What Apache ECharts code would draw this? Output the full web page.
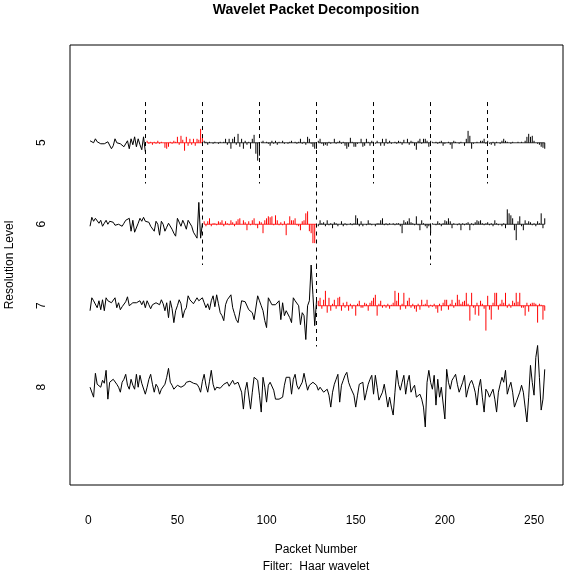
<!DOCTYPE html>
<html>
<head>
<meta charset="utf-8">
<script src="https://cdn.jsdelivr.net/npm/echarts@6/dist/echarts.min.js"></script>
<style>
  html, body { margin: 0; padding: 0; background: #fff; }
  #chart { width: 571px; height: 576px; }
</style>
</head>
<body>
<div id="chart"></div>
<script>
// resolution levels (top to bottom) and axis ticks
const levels = [5, 6, 7, 8];
const xTicks = [0, 50, 100, 150, 200, 250];

// coefficients per level (upward = positive)
const lvl5 = [
  2, 3, 0, 4, 1, 0, -1, 1, -1, -1, 1, 0, -6, -3, 4, 0, -2, -1, 0, -4,
  -2, 2, -6, 4, -2, 6, -4, 4, -2, -7, 6, -9,
  2, -1, 1, -2, 1, -1, 2, -1, 1, 0, -5, -6, -4, 1, -1, 2, 1, 6, -2, 7,
  3, -8, 6, -3, 4, -2, 4, -3, 4, 3, 14, 5,
  2, 1, -2, 1, 0, -1, 1, 0, -1, 1, 0, 1, 4, -2, 4, -6, 4, 6, -2, 9,
  -4, 4, -6, 2, -2, 1, -6, 4, 8, -11, -18, -13, 1, 2, 0, 1, -1, -3, 2, -1,
  2, -2, 1, 0, 2, -1, 0, -1, 1, 2, 0, 1, -1, 1, 4, -1, 1, -2, 6, 4,
  -1, -4, -6, -6, 2, 4, -1, -3, -2, -3, 1, -1, 0, 4, -1, 1, 2, -1, 1, -3,
  -6, -4, 5, 1, -4, -4, -1, 0, 4, -4, -3, 4, 1, -3, 2, 1, -1, 2, 0, -3,
  4, -3, 4, -1, 2, -1, 0, 1, -1, 2, 1, -2, 3, 0, 4, -2, 2, 1, -3, -7,
  2, 4, -1, 4, 4, 2, -4, 2, 1, 0, 1, -1, 1, 2, -3, -1, 0, 1, -2, -6,
  2, 1, 0, -1, 1, 0, -3, 4, 12, 7, -6, -1, 0, 1, 0, 2, 2, 4, -1, 2,
  -1, -2, 1, -3, 1, 0, -1, 2, 4, 2, 1, 0, -1, 1, 0, 0, 1, 0, 1, 0,
  2, 6, 9, 6, 7, 2, 0, -1, -2, -4, -5, -6
];
const lvl6 = [
  -2, 7, 3, 6, 4, 1, 4, -2, 1, 4, 0, 3, 1, 2, -1, 1, 0, 1, -2, 1,
  4, 5, 6, -7, 4, -8, -9, 1, 6, 3, 7, 3, 1, 2, -2, 0, -7, 3, 0, -11,
  3, 0, -7, -3, 1, 3, -5, -9, -12, 6, 8, -2, 4, 0, -5, 4, 3, -2, -8, -11,
  -14, 22, -14, 1,
  3, -2, 3, 6, -2, 1, 1, -1, 3, 2, 4, -2, 3, 1, -1, 4, 2, -2, 3, 5,
  6, 0, 4, 2, -6, 3, -1, 4, 6, -1, -4, 3, 2, -9, 4, 6, 8, 7, 8, -1,
  9, 4, -1, 2, -1, 3, -11, 1, 8, 4, 4, 6, -1, -2, -6, 3, 4, 11, 13, -7,
  -9, -19, -19, -3,
  -2, 4, 1, 2, -2, 4, -1, 1, -4, 2, 1, -2, 0, 3, -2, 1, -1, 0, 1, -1,
  1, 9, 6, -2, 3, -2, 0, -1, 4, 1, -1, 0, -2, 1, 1, 4, 6, -1, 1, -1,
  1, 0, 1, -1, 1, 1, -2, -9, 4, 2, 3, 6, 2, 1, -1, 8, -1, -6, 4, 1,
  -2, -4, -2, -9, 1, 0, -1, 3, 1, -2, 1, 4, 3, 6, 3, -4, 1, 0, -1, 1,
  -6, 1, -1, 1, 2, -6, 1, -1, 2, 4, 3, 4, 1, -1, 1, 2, -1, 1, -2, 4,
  1, -1, 0, -2, 1, -4, 15, 11, 9, 6, -6, -16, 3, 8, -2, -6, 4, 1, 3, 2,
  -1, 1, -2, 3, 1, 11, -4, 6
];
const lvl7 = [
  -5, 8, 5, 3, -2, 5, -4, 6, -5, 8, 5, 6, 3, 2, 8, -2, 3, -4, -1, -2,
  4, 9, 0, 2, 3, 1, 3, 5, 5, 1, 5, -2, 5, 1, -3, 1, -1, 3, 2, 1,
  6, 2, -5, 3, -12, 5, -3, -17, -5, 0, 6, 2, -12, -5, -2, 10, 6, 6, 2, 0,
  8, 5, 3, 8, 3, -2, 2, -4, 5, 10, -1, 11, 2, -7, -10, -15, 1, 6, 8, 11,
  -2, -8, -14, -17, -15, 5, 5, 4, 3, -4, -5, -7, -14, -12, 10, 5, 0, -5, -15, -22,
  8, 6, 1, 2, 1, 3, 5, -14, 3, -10, -5, -7, -12, -17, 8, 5, 3, 0, -19, -7,
  -10, -34, 0, 5, 41, 11, -20, 5,
  5, 8, -3, 6, 15, -7, 8, -5, 2, 6, -3, 8, 9, -5, 3, -2, 4, -5, 2, -3,
  1, -10, 2, 5, -2, -2, 3, 2, -5, 3, 5, 8, 11, -10, 2, 5, -2, 1, -2, 2,
  -3, 1, 3, 15, 5, 13, -4, 2, 13, -3, 5, 8, -2, 2, -3, -6, 2, -4, 6, 1,
  2, 6, -2, 1, -1, 2, -3, -7, 2, -5, 3, 6, 6, -4, 2, 6, -2, 3, 11, 6,
  2, 4, 5, 13, 2, -15, 13, -2, -9, 3, -10, 5, 2, -3, -25, 10, -4, -14, 3, 13,
  13, -4, 2, 6, 3, 13, -2, 2, -2, 5, 3, 13, 4, 13, -2, -2, -10, 3, -6, 2,
  3, 3, 2, -17, 2, 1, -14, -5
];
const lvl8 = [
  0, 0, -10, 14, 3, 2, 0, 7, 4, 17, -12, 5, 6, 8, 10, 3, 0, -5, 5, 8,
  13, 2, -2, 8, 2, -2, 13, 0, 12, 4, 2, -7, 0, 8, 13, 3, -5, 3, 0, -7,
  -2, 0, 3, 10, 19, 5, 2, -2, -1, 2, 3, 0, -2, 2, 5, 4, 6, 8, 4, 2,
  3, 0, -5, 6, 13, 2, -5, 6, 17, 3, -3, 0, 2, -1, 0, 3, 2, 5, 1, 0,
  7, 3, 2, 5, 7, -5, -22, -3, 5, 3, -22, -5, 10, 8, 7, -8, -25, 10, 0, -15,
  2, 5, 7, -3, -12, -11, -12, -10, -10, 2, 10, 9, 10, -7, 8, 13, 2, -2, 0, 5,
  14, 5, -3, 2, 3, 5, 7, 2, -3, 0, 0, -5, -3, -2, -8, -20, -5, 3, 8, 13,
  -15, 2, 7, 12, 15, 5, 0, -2, -8, -20, -8, 3, 4, 5, -13, -5, 3, 8, 12, -7,
  12, 0, -13, -12, -5, 3, -8, -20, -10, -20, -28, -5, 17, 3, -3, 5, 12, -7, 5, 12,
  -5, -1, 2, -10, -8, -7, -12, -20, -40, 5, 17, 5, -2, 12, -18, 8, -10, 0, 2, -32,
  18, 5, -2, 7, 10, 13, 3, -5, 0, 5, 12, -10, -2, 4, 7, 2, -5, -18, 0, 8,
  -10, -25, -2, -5, -10, -6, -2, -12, -25, -5, 3, 10, 5, 17, -7, 0, 5, -5, -20, -15,
  -13, -5, 2, -5, -20, -35, -10, 22, 5, -8, 30, 42, 10, -23, -12, 18
];

// packets drawn in red (best basis), by packet index within the level
const bestBasis = { 5: [1], 6: [1], 7: [1] };
// dashed packet boundaries per level
const dashX = { 5: [32, 64, 96, 128, 160, 192, 224], 6: [64, 128, 192], 7: [128] };

const coefs = { 5: lvl5, 6: lvl6, 7: lvl7, 8: lvl8 };
const scale = 1 / 82;

var chart = echarts.init(document.getElementById('chart'));

function spikeRender(color) {
  return function (params, api) {
    var base = api.coord([api.value(0), api.value(2)]);
    var tip = api.coord([api.value(0), api.value(1)]);
    return {
      type: 'line',
      shape: { x1: base[0], y1: base[1], x2: tip[0], y2: tip[1] },
      style: { stroke: color, lineWidth: 1 }
    };
  };
}

var series = [];
levels.forEach(function (L) {
  var vals = coefs[L];
  var nPack = Math.pow(2, 8 - L);
  var len = vals.length / nPack;
  for (var p = 0; p < nPack; p++) {
    var start = p * len;
    var red = (bestBasis[L] || []).indexOf(p) >= 0;
    var color = red ? '#ff0000' : '#000000';
    if (p === 0) {
      // lowest-frequency packet: drawn as a line
      var s = {
        type: 'line',
        data: vals.slice(start, start + len).map(function (v, k) {
          return [start + k + 1, L - v * scale];
        }),
        symbol: 'none',
        silent: true,
        z: 2,
        lineStyle: { color: color, width: 1 }
      };
      if (dashX[L]) {
        s.markLine = {
          silent: true,
          symbol: ['none', 'none'],
          label: { show: false },
          lineStyle: { color: '#000', type: [4, 4], width: 1 },
          data: dashX[L].map(function (x) {
            return [{ coord: [x, L - 0.5] }, { coord: [x, L + 0.5] }];
          })
        };
      }
      series.push(s);
    } else {
      // other packets: vertical spikes from the level baseline
      series.push({
        type: 'line',
        data: [[start + 1, L], [start + len, L]],
        symbol: 'none',
        silent: true,
        z: red ? 3 : 2,
        lineStyle: { color: color, width: 0.8 }
      });
      series.push({
        type: 'custom',
        data: vals.slice(start, start + len).map(function (v, k) {
          return [start + k + 1, L - v * scale, L];
        }),
        encode: { x: 0, y: 1 },
        silent: true,
        clip: false,
        z: red ? 3 : 2,
        renderItem: spikeRender(color)
      });
    }
  }
});

const font = 'Liberation Sans, Arial, sans-serif';

const option = {
  animation: false,
  backgroundColor: '#fff',
  grid: {
    show: true,
    left: 70, top: 45, width: 493, height: 440,
    borderColor: '#000', borderWidth: 1,
    backgroundColor: 'transparent'
  },
  xAxis: {
    type: 'value',
    min: -10.24, max: 266.24,
    axisLine: { show: false },
    splitLine: { show: false },
    axisTick: { show: false },
    axisLabel: { customValues: xTicks, margin: 30, color: '#000', fontSize: 12, fontFamily: font }
  },
  yAxis: {
    type: 'value',
    inverse: true,
    min: 3.8, max: 9.2,
    axisLine: { show: false },
    splitLine: { show: false },
    axisTick: { show: false },
    axisLabel: { customValues: levels, rotate: 90, margin: 22, color: '#000', fontSize: 12, fontFamily: font }
  },
  graphic: [
    { type: 'text', x: 316, y: 10, style: { text: 'Wavelet Packet Decomposition', font: 'bold 14px ' + font, fill: '#000', align: 'center', verticalAlign: 'middle' } },
    { type: 'text', x: 316, y: 550, style: { text: 'Packet Number', font: '12px ' + font, fill: '#000', align: 'center', verticalAlign: 'middle' } },
    { type: 'text', x: 316, y: 567, style: { text: 'Filter:  Haar wavelet', font: '12px ' + font, fill: '#000', align: 'center', verticalAlign: 'middle' } },
    { type: 'text', x: 10, y: 265, rotation: Math.PI / 2, style: { text: 'Resolution Level', font: '12px ' + font, fill: '#000', align: 'center', verticalAlign: 'middle' } }
  ],
  series: series
};

chart.setOption(option);
</script>
</body>
</html>
